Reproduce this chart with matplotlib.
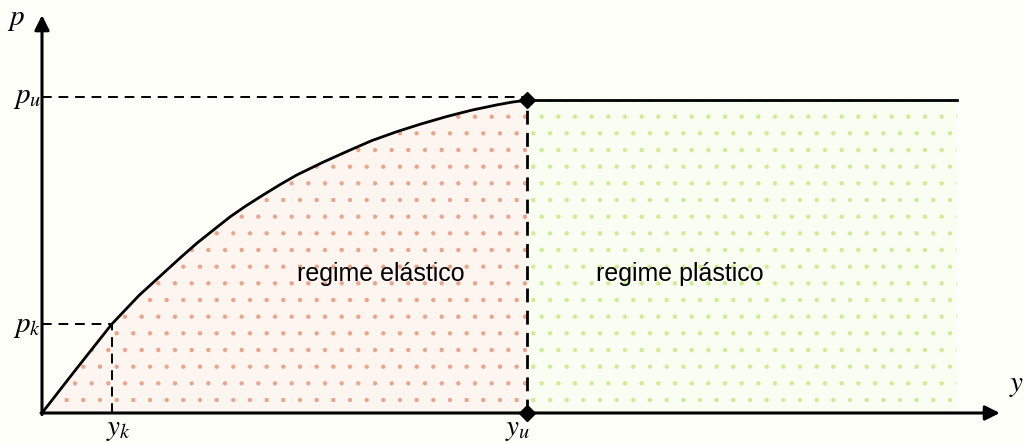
import numpy as np
import matplotlib
matplotlib.use("Agg")
import matplotlib.pyplot as plt

# p-y curve (normalised: y/yu, p/pu)
curve_y = [0.0, 0.07, 0.1437, 0.20, 0.250, 0.285, 0.319, 0.355, 0.388, 0.42,
           0.456, 0.49, 0.525, 0.58, 0.635, 0.68, 0.731, 0.78, 0.834, 0.885,
           0.9375, 0.97, 1.0]
curve_p = [0.0, 0.138, 0.281, 0.372, 0.442, 0.491, 0.537, 0.581, 0.621, 0.655,
           0.690, 0.722, 0.753, 0.794, 0.832, 0.862, 0.890, 0.914, 0.938, 0.958,
           0.975, 0.984, 0.990]
y_k, p_k = 0.1437, 0.281
y_u, p_u = 1.0, 1.0
y_end = 1.887          # end of the plastic plateau
x_arrow, p_arrow = 1.975, 1.259

labels_regime = ["regime elástico", "regime plástico"]

plt.rcParams['mathtext.fontset'] = 'stix'
plt.rcParams['hatch.linewidth'] = 0.7

bg = '#fffffa'
fig = plt.figure(figsize=(10.25, 4.44), dpi=100, facecolor=bg)
ax = fig.add_axes([0, 0, 1, 1])
ax.set_facecolor(bg)
ax.set_xlim(-42 / 485, 983 / 485)
ax.set_ylim(-31 / 316, 413 / 316)
ax.axis('off')

# shaded regions
ax.fill_between(curve_y, 0, curve_p, facecolor='#fdf5f0', edgecolor='#eba48a',
                hatch='.', linewidth=0, zorder=1)
ax.fill_between([y_u, y_end], 0, curve_p[-1], facecolor='#f9fdf2',
                edgecolor='#cdee90', hatch='.', linewidth=0, zorder=1)

# curve + plateau
ax.plot(curve_y, curve_p, color='k', lw=2.0, zorder=4, solid_capstyle='round')
ax.plot([y_u, y_end], [curve_p[-1], curve_p[-1]], color='k', lw=2.0, zorder=4)

# dashed guides
dash = dict(color='k', lw=1.4, ls=(0, (5, 3.5)), zorder=3)
ax.plot([0, y_k], [p_k, p_k], **dash)
ax.plot([y_k, y_k], [0, p_k], **dash)
ax.plot([0, y_u], [p_u, p_u], **dash)
ax.plot([y_u, y_u], [0, p_u], color='k', lw=2.0, ls=(0, (5, 3)), zorder=3)

# diamonds at yu
ax.plot([y_u, y_u], [curve_p[-1], 0.0], ls='none', marker='D', ms=8,
        color='k', zorder=5)

# axes with arrows
arr = dict(arrowstyle='-|>', lw=2.2, color='k', mutation_scale=22,
           shrinkA=0, shrinkB=0)
ax.annotate('', xy=(x_arrow, 0), xytext=(-0.002, 0), arrowprops=arr, zorder=6)
ax.annotate('', xy=(0, p_arrow), xytext=(0, -0.005), arrowprops=arr, zorder=6)

# labels
ms = 21
ax.text(-0.031, 1.0, '$p_u$', fontsize=ms, ha='center', va='center')
ax.text(-0.031, p_k - 0.005, '$p_k$', fontsize=ms, ha='center', va='center')
ax.text(0.157, -0.052, '$y_k$', fontsize=ms, ha='center', va='center')
ax.text(0.981, -0.052, '$y_u$', fontsize=ms, ha='center', va='center')
ax.text(-0.054, 1.247, '$p$', fontsize=ms, ha='center', va='center')
ax.text(2.010, 0.089, '$y$', fontsize=ms, ha='center', va='center')

ax.text(0.698, 0.44, labels_regime[0], fontsize=18, family='Liberation Sans',
        ha='center', va='center', zorder=6)
ax.text(1.315, 0.44, labels_regime[1], fontsize=18, family='Liberation Sans',
        ha='center', va='center', zorder=6)

fig.savefig('out.png', dpi=100, facecolor=bg)
